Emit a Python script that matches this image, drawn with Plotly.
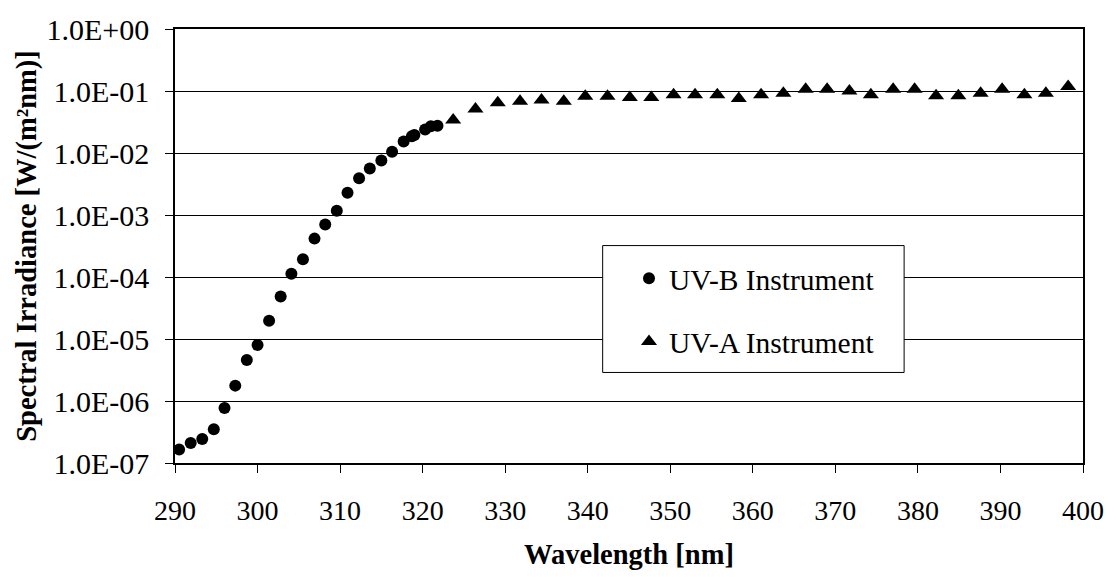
import plotly.graph_objects as go

# UV-B instrument: wavelength [nm] and spectral irradiance [W/(m^2 nm)]
uvb_wavelength = [290.5, 291.9, 293.3, 294.7, 296.0, 297.3, 298.7, 300.0, 301.4,
                  302.8, 304.1, 305.5, 306.9, 308.2, 309.6, 310.9, 312.3, 313.6,
                  315.0, 316.3, 317.7, 318.7, 319.0, 320.3, 321.0, 321.8]
uvb_irradiance = [1.65e-7, 2.1e-7, 2.43e-7, 3.5e-7, 7.7e-7, 1.77e-6, 4.6e-6, 8.0e-6, 1.97e-5,
                  4.86e-5, 1.13e-4, 1.93e-4, 4.16e-4, 7.0e-4, 1.17e-3, 2.29e-3, 3.9e-3, 5.6e-3,
                  7.55e-3, 1.05e-2, 1.53e-2, 1.86e-2, 1.95e-2, 2.4e-2, 2.7e-2, 2.75e-2]

# UV-A instrument
uva_wavelength = [323.7, 326.4, 329.1, 331.8, 334.4, 337.1, 339.7, 342.4, 345.1, 347.7,
                  350.4, 353.0, 355.7, 358.3, 361.0, 363.7, 366.4, 369.0, 371.7, 374.3,
                  377.0, 379.6, 382.2, 384.9, 387.6, 390.2, 392.9, 395.5, 398.2]
uva_irradiance = [3.42e-2, 5.12e-2, 6.44e-2, 6.86e-2, 7.18e-2, 6.86e-2, 8.23e-2, 8.23e-2, 7.87e-2, 7.87e-2,
                  8.74e-2, 8.74e-2, 8.74e-2, 7.54e-2, 8.74e-2, 9.2e-2, 1.07e-1, 1.07e-1, 1.0e-1, 8.74e-2,
                  1.07e-1, 1.07e-1, 8.37e-2, 8.37e-2, 9.2e-2, 1.07e-1, 8.74e-2, 9.2e-2, 1.18e-1]

# Axis ticks
x_ticks = [290, 300, 310, 320, 330, 340, 350, 360, 370, 380, 390, 400]
y_tick_values = [1e0, 1e-1, 1e-2, 1e-3, 1e-4, 1e-5, 1e-6, 1e-7]
y_tick_labels = ["1.0E+00", "1.0E-01", "1.0E-02", "1.0E-03",
                 "1.0E-04", "1.0E-05", "1.0E-06", "1.0E-07"]

FONT = "Liberation Serif"

fig = go.Figure()
fig.add_trace(go.Scatter(
    x=uvb_wavelength, y=uvb_irradiance, mode="markers", name="UV-B Instrument",
    legendgroup="b",
    marker=dict(symbol="circle", size=12, color="black"),
))
fig.add_trace(go.Scatter(
    x=uva_wavelength, y=uva_irradiance, mode="markers", name="UV-A Instrument",
    legendgroup="a",
    marker=dict(symbol="triangle-up", size=14, color="black"),
))

# legend frame (white box that hides the grid behind the legend)
fig.add_shape(type="rect", xref="paper", yref="paper",
              x0=0.471, x1=0.803, y0=0.2086, y1=0.501,
              line=dict(color="black", width=1), fillcolor="white", layer="above")

fig.update_layout(
    width=1116, height=577,
    margin=dict(l=175, r=28, t=25, b=111),
    paper_bgcolor="white", plot_bgcolor="white",
    font=dict(family=FONT, size=27, color="black"),
    showlegend=True,
    legend=dict(x=0.5, y=0.485, xanchor="left", yanchor="top",
                bgcolor="rgba(0,0,0,0)", borderwidth=0,
                font=dict(family=FONT, size=29.5, color="black"),
                tracegroupgap=22, itemwidth=30),
    xaxis=dict(
        range=[290, 400], tickvals=x_ticks,
        showline=True, linecolor="black", linewidth=1.5, mirror=True,
        ticks="outside", ticklen=8, tickcolor="black",
        showgrid=False, zeroline=False, ticklabelstandoff=14,
        tickfont=dict(family=FONT, size=28),
        title=dict(text="<b>Wavelength [nm]</b>", font=dict(family=FONT, size=28.5), standoff=19),
    ),
    yaxis=dict(
        type="log", range=[-7, 0], tickvals=y_tick_values, ticktext=y_tick_labels,
        showline=True, linecolor="black", linewidth=1.5, mirror=True,
        ticks="outside", ticklen=8, tickcolor="black",
        showgrid=True, gridcolor="black", gridwidth=1, zeroline=False,
        ticklabelstandoff=10,
        tickfont=dict(family=FONT, size=30),
        title=dict(text="<b>Spectral Irradiance [W/(m²nm)]</b>", font=dict(family=FONT, size=28.5), standoff=2),
    ),
)

fig.write_html("out.html")
